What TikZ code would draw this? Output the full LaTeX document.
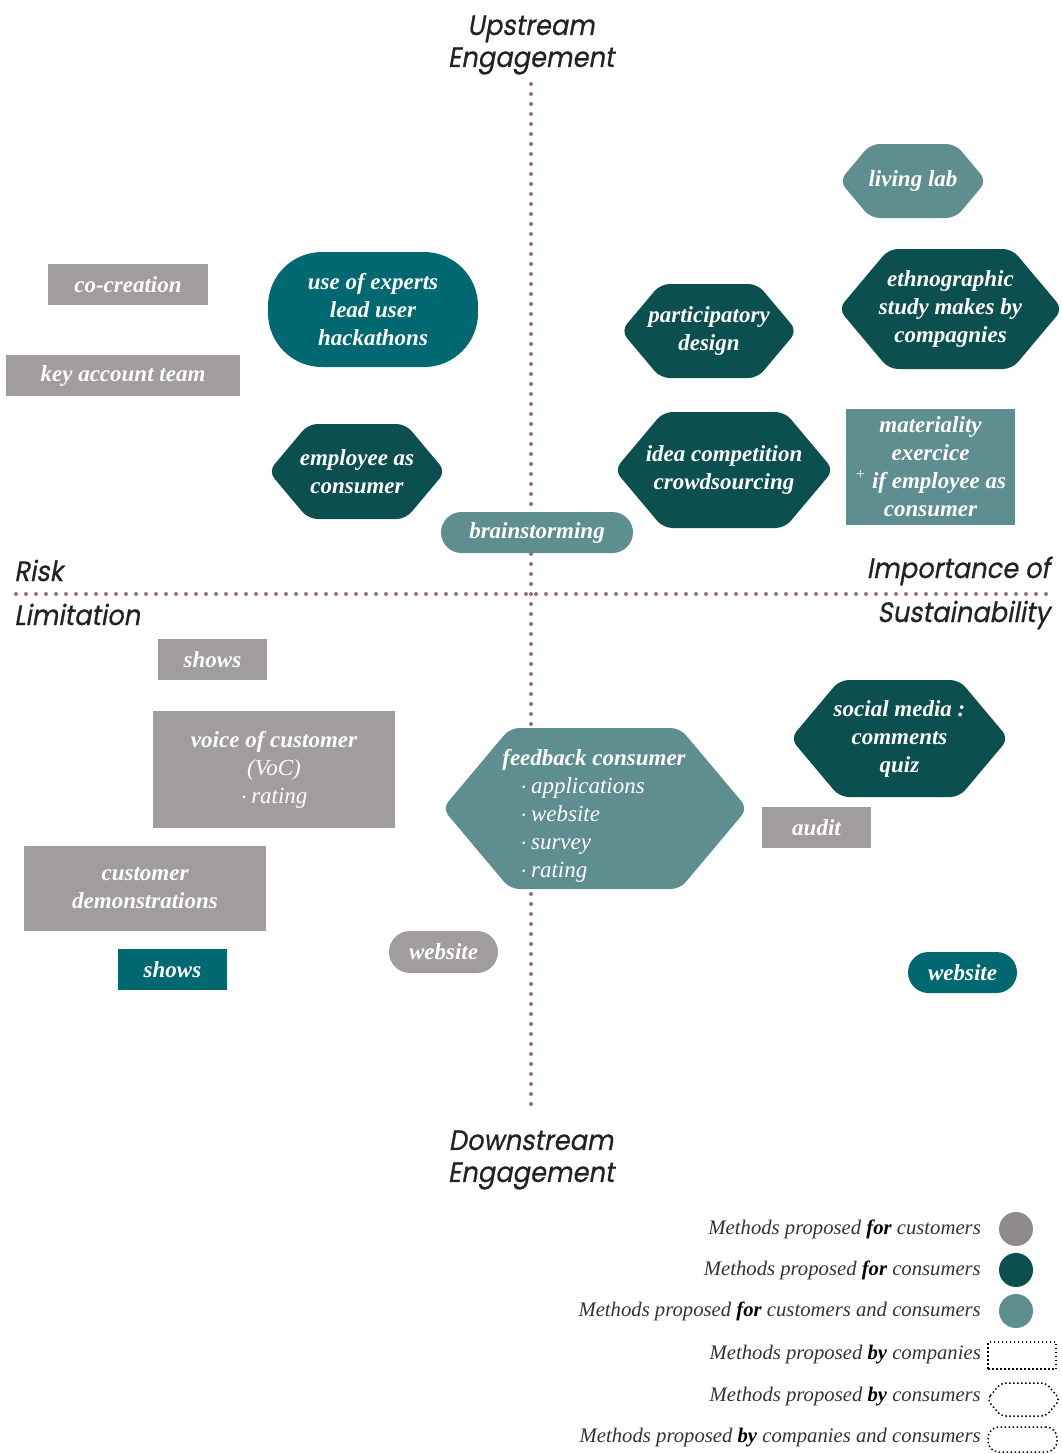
\documentclass[tikz,border=0pt]{standalone}
\usepackage{fontspec}
\setmainfont{Liberation Serif}
\newfontfamily\axisfont[FakeSlant=0.18,FakeStretch=0.92,FakeBold=0.6]{Poppins}
\definecolor{cgray}{HTML}{A09C9F}
\definecolor{cgrayleg}{HTML}{8E8A8D}
\definecolor{cdark}{HTML}{0B4F4E}
\definecolor{cmid}{HTML}{006870}
\definecolor{clight}{HTML}{5F8E91}
\definecolor{caxis}{HTML}{9C6B7F}
\definecolor{ctext}{HTML}{222222}
\definecolor{clegtext}{HTML}{333333}
\newcommand\hexnode[7]{%
  \fill[#6, rounded corners=9pt] ({#2-#4/2},#3) -- ({#2-#4/2+0.42*#5},{#3-#5/2}) -- ({#2+#4/2-0.42*#5},{#3-#5/2}) -- ({#2+#4/2},#3) -- ({#2+#4/2-0.42*#5},{#3+#5/2}) -- ({#2-#4/2+0.42*#5},{#3+#5/2}) -- cycle;
  \node[lbl] (#1) at (#2,#3) {#7};}
\begin{document}
\begin{tikzpicture}[x=1pt,y=-1pt,
  lbl/.style={text=white, font=\fontsize{23}{28}\selectfont\bfseries\itshape, align=center, inner sep=0pt},
  box/.style={lbl, rectangle},
  axisline/.style={draw=caxis, line width=4pt, line cap=round, dash pattern=on 0pt off 10pt},
  axislbl/.style={text=ctext, font=\axisfont\fontsize{28}{32}\selectfont, inner sep=0pt},
  leg/.style={text=clegtext, font=\fontsize{20.7}{24}\selectfont\itshape, anchor=east, inner sep=0pt},
  legmark/.style={draw=black, line width=1.5pt, dash pattern=on 1.5pt off 2.5pt}
]
\useasboundingbox (0,0) rectangle (1062,1454);
% axes
\coordinate (vtop) at (531,84);
\coordinate (vbot) at (531,1108);
\coordinate (hl) at (16,594);
\coordinate (hr) at (1050,594);
\draw[axisline] (vtop) -- (vbot);
\draw[axisline] (hl) -- (hr);
% axis labels
\node[axislbl, align=center] (up) at (531,45) {Upstream\\Engagement};
\node[axislbl, align=center] (down) at (531,1160) {Downstream\\Engagement};
\node[axislbl, anchor=base west] (risk) at (14,581) {Risk};
\node[axislbl, anchor=base west] (limit) at (14,625) {Limitation};
\node[axislbl, anchor=base east] (imp) at (1050,578) {Importance of};
\node[axislbl, anchor=base east] (sust) at (1050,622) {Sustainability};
% gray boxes (for customers)
\node[box, fill=cgray, minimum width=160pt, minimum height=41pt] (cocr) at (128,284.5) {co-creation};
\node[box, fill=cgray, minimum width=234pt, minimum height=41pt] (kat) at (123,375.5) {key account team};
\node[box, fill=cgray, minimum width=109pt, minimum height=41pt] (shows1) at (212.5,659.5) {shows};
\node[box, fill=cgray, minimum width=242pt, minimum height=117pt] (voc) at (274,769.5) {voice of customer\\{\mdseries(VoC)}\\{\mdseries$\cdot$\,rating}};
\node[box, fill=cgray, minimum width=242pt, minimum height=85pt] (demo) at (145,888.5) {customer\\demonstrations};
\node[box, fill=cgray, minimum width=109pt, minimum height=41pt] (audit) at (816.5,827.5) {audit};
\node[box, fill=cgray, minimum width=109pt, minimum height=42pt, rounded corners=21pt] (web1) at (443.5,952) {website};
% mid teal
\node[box, fill=cmid, minimum width=210pt, minimum height=115pt, rounded corners=54pt] (experts) at (373,309.5) {use of experts\\lead user\\hackathons};
\node[box, fill=cmid, minimum width=109pt, minimum height=41pt] (shows2) at (172.5,969.5) {shows};
\node[box, fill=cmid, minimum width=109pt, minimum height=41pt, rounded corners=20.5pt] (web2) at (962.5,972.5) {website};
% dark teal hexagons
\hexnode{partic}{709}{331}{176}{94}{cdark}{participatory\\design}
\hexnode{ethno}{950.5}{309}{224}{120}{cdark}{ethnographic\\study makes by\\compagnies}
\hexnode{employee}{357}{471.5}{177}{95}{cdark}{employee as\\consumer}
\hexnode{idea}{724}{470}{219}{116}{cdark}{idea competition\\crowdsourcing}
\hexnode{social}{899.5}{738.5}{218}{117}{cdark}{social media :\\comments\\quiz}
% light teal
\hexnode{living}{913}{181}{147}{74}{clight}{living lab}
\node[box, fill=clight, minimum width=169pt, minimum height=116pt] (mater) at (930.5,467) {materiality\\exercice\\\textsuperscript{\mdseries+} if employee as\\consumer};
\node[box, fill=clight, minimum width=192pt, minimum height=41pt, rounded corners=20.5pt] (brain) at (537,532.5) {brainstorming};
\hexnode{feedback}{595}{808.5}{305}{161}{clight}{}
\node[lbl, align=left] (fbtext) at (594,816) {feedback consumer\\{\mdseries\hspace*{18pt}$\cdot$\,applications}\\{\mdseries\hspace*{18pt}$\cdot$\,website}\\{\mdseries\hspace*{18pt}$\cdot$\,survey}\\{\mdseries\hspace*{18pt}$\cdot$\,rating}};
% legend
\node[leg] (l1) at (981,1229) {Methods proposed \textcolor{black}{\textbf{for}} customers};
\node[leg] (l2) at (981,1270) {Methods proposed \textcolor{black}{\textbf{for}} consumers};
\node[leg] (l3) at (981,1311) {Methods proposed \textcolor{black}{\textbf{for}} customers and consumers};
\node[leg] (l4) at (981,1355) {Methods proposed \textcolor{black}{\textbf{by}} companies};
\node[leg] (l5) at (981,1397) {Methods proposed \textcolor{black}{\textbf{by}} consumers};
\node[leg] (l6) at (981,1438) {Methods proposed \textcolor{black}{\textbf{by}} companies and consumers};
\node[circle, fill=cgrayleg, minimum size=34pt, inner sep=0pt] (m1) at (1016,1229) {};
\node[circle, fill=cdark, minimum size=34pt, inner sep=0pt] (m2) at (1016,1270) {};
\node[circle, fill=clight, minimum size=34pt, inner sep=0pt] (m3) at (1016,1311) {};
\node[legmark, minimum width=68pt, minimum height=27pt, inner sep=0pt] (m4) at (1022,1355.5) {};
\draw[legmark, rounded corners=5pt] (987,1399.5) -- (1001,1383) -- (1046,1383) -- (1060,1399.5) -- (1046,1416) -- (1001,1416) -- cycle;
\node[legmark, minimum width=69pt, minimum height=25pt, rounded corners=11pt, inner sep=0pt] (m6) at (1022.5,1439.5) {};
\end{tikzpicture}
\end{document}
